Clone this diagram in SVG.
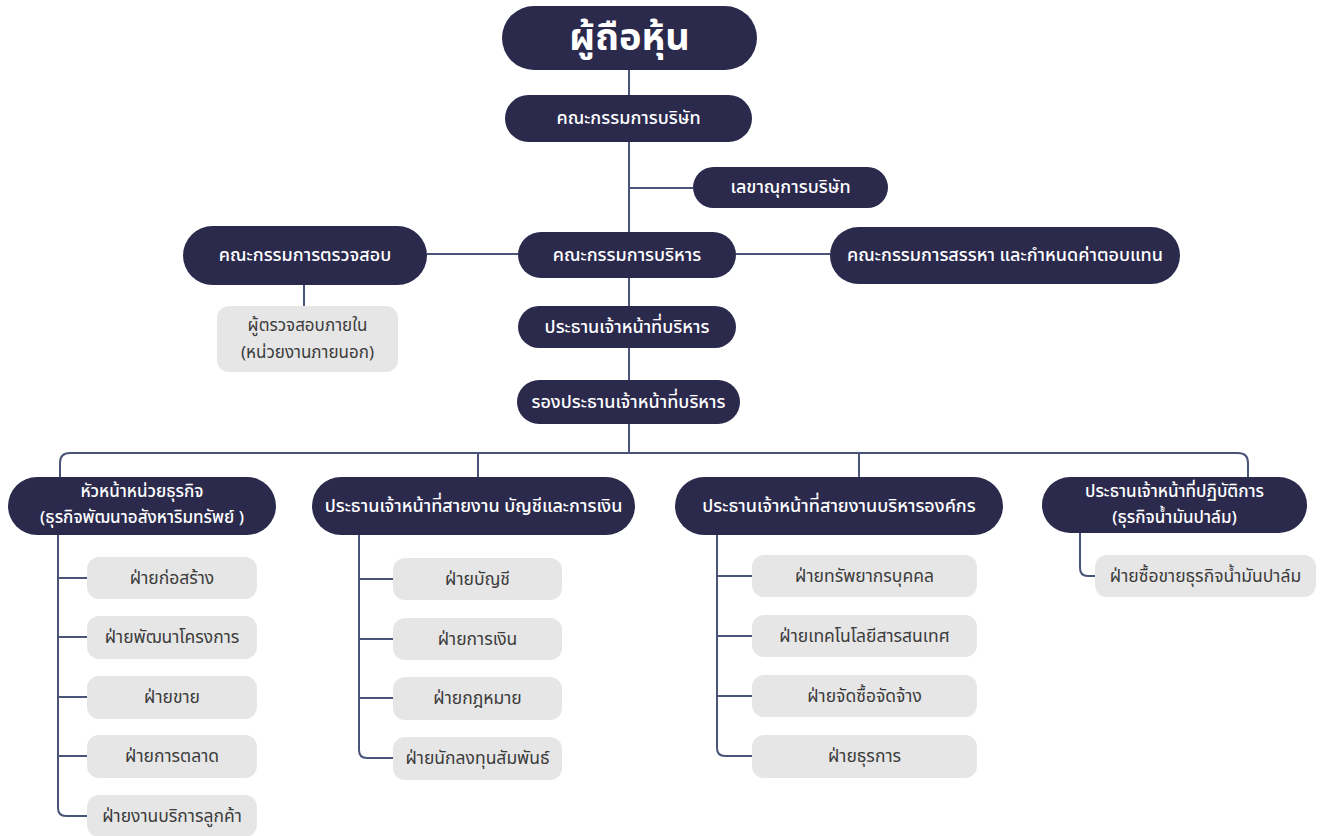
<svg xmlns="http://www.w3.org/2000/svg" width="1322" height="836" viewBox="0 0 1322 836">
<style>
.dk{fill:#2b2a4d}
.gy{fill:#e6e6e6}
.wt{fill:#ffffff;font-family:"Noto Sans Thai","Noto Sans","DejaVu Sans",sans-serif;font-size:18px;font-weight:500;text-anchor:middle;dominant-baseline:central}
.gt{fill:#3c3c3c;font-family:"Noto Sans Thai","Noto Sans","DejaVu Sans",sans-serif;font-size:17.5px;text-anchor:middle;dominant-baseline:central}
.two{font-size:17px}
.ln{fill:none;stroke:#4a5478;stroke-width:2}
</style>
<rect width="1322" height="836" fill="#ffffff"/>
<g id="connectors" class="ln">
<path d="M629 70V432"/>
<path d="M629 188H693"/>
<path d="M427 254H518"/>
<path d="M736 254H830"/>
<path d="M304 285V306"/>
<path d="M629 424V453"/>
<path d="M60 477V463Q60 453 70 453H1238Q1248 453 1248 463V477"/>
<path d="M478 453V477"/>
<path d="M859 453V477"/>
<path d="M58 535V808Q58 816 66 816H87"/>
<path d="M58 578H87M58 637H87M58 697H87M58 756H87"/>
<path d="M359 535V750Q359 758 367 758H393"/>
<path d="M359 579H393M359 639H393M359 698H393"/>
<path d="M717 535V748Q717 756 725 756H752"/>
<path d="M717 576H752M717 636H752M717 696H752"/>
<path d="M1080 533V568Q1080 576 1088 576H1095"/>
</g>
<g id="n-shareholders"><rect class="dk" x="502" y="6" width="255" height="64" rx="32"/><text class="wt" x="629.5" y="38" style="font-size:38px;font-weight:700">ผู้ถือหุ้น</text></g>
<g id="n-board"><rect class="dk" x="505" y="95" width="247" height="47" rx="23.5"/><text class="wt" x="628.5" y="118.5">คณะกรรมการบริษัท</text></g>
<g id="n-secretary"><rect class="dk" x="693" y="167" width="195" height="41" rx="20.5"/><text class="wt" x="790.5" y="187.5">เลขาณุการบริษัท</text></g>
<g id="n-audit"><rect class="dk" x="183" y="226" width="244" height="59" rx="29.5"/><text class="wt" x="305" y="255.5">คณะกรรมการตรวจสอบ</text></g>
<g id="n-exec"><rect class="dk" x="518" y="232" width="218" height="46" rx="23"/><text class="wt" x="627" y="255">คณะกรรมการบริหาร</text></g>
<g id="n-nomination"><rect class="dk" x="830" y="227" width="350" height="57" rx="28.5"/><text class="wt" x="1005" y="255.5">คณะกรรมการสรรหา และกำหนดค่าตอบแทน</text></g>
<g id="n-internal-audit"><rect class="gy" x="217" y="306" width="181" height="66" rx="12"/><text class="gt two" x="307.5" y="326">ผู้ตรวจสอบภายใน</text><text class="gt two" x="307.5" y="353">(หน่วยงานภายนอก)</text></g>
<g id="n-ceo"><rect class="dk" x="518" y="306" width="218" height="42" rx="21"/><text class="wt" x="627" y="327">ประธานเจ้าหน้าที่บริหาร</text></g>
<g id="n-deputy-ceo"><rect class="dk" x="517" y="380" width="223" height="44" rx="22"/><text class="wt" x="628.5" y="402">รองประธานเจ้าหน้าที่บริหาร</text></g>
<g id="n-bu-head"><rect class="dk" x="8" y="477" width="268" height="58" rx="29"/><text class="wt two" x="142" y="492">หัวหน้าหน่วยธุรกิจ</text><text class="wt two" x="142" y="518">(ธุรกิจพัฒนาอสังหาริมทรัพย์ )</text></g>
<g id="n-cfo"><rect class="dk" x="312" y="477" width="323" height="58" rx="29"/><text class="wt" x="473.5" y="506">ประธานเจ้าหน้าที่สายงาน บัญชีและการเงิน</text></g>
<g id="n-cao"><rect class="dk" x="675" y="477" width="328" height="58" rx="29"/><text class="wt" x="839" y="506">ประธานเจ้าหน้าที่สายงานบริหารองค์กร</text></g>
<g id="n-coo"><rect class="dk" x="1042" y="477" width="265" height="56" rx="28"/><text class="wt two" x="1174.5" y="492">ประธานเจ้าหน้าที่ปฏิบัติการ</text><text class="wt two" x="1174.5" y="518">(ธุรกิจน้ำมันปาล์ม)</text></g>
<g id="n-construction"><rect class="gy" x="87" y="557" width="170" height="42" rx="12"/><text class="gt" x="172" y="578">ฝ่ายก่อสร้าง</text></g>
<g id="n-project-dev"><rect class="gy" x="87" y="616" width="170" height="43" rx="12"/><text class="gt" x="172" y="637.5">ฝ่ายพัฒนาโครงการ</text></g>
<g id="n-sales"><rect class="gy" x="87" y="676" width="170" height="43" rx="12"/><text class="gt" x="172" y="697">ฝ่ายขาย</text></g>
<g id="n-marketing"><rect class="gy" x="87" y="735" width="170" height="43" rx="12"/><text class="gt" x="172" y="756.5">ฝ่ายการตลาด</text></g>
<g id="n-customer-service"><rect class="gy" x="87" y="795" width="170" height="42" rx="12"/><text class="gt" x="172" y="816">ฝ่ายงานบริการลูกค้า</text></g>
<g id="n-accounting"><rect class="gy" x="393" y="558" width="169" height="42" rx="12"/><text class="gt" x="477.5" y="579">ฝ่ายบัญชี</text></g>
<g id="n-finance"><rect class="gy" x="393" y="618" width="169" height="42" rx="12"/><text class="gt" x="477.5" y="639">ฝ่ายการเงิน</text></g>
<g id="n-legal"><rect class="gy" x="393" y="677" width="169" height="43" rx="12"/><text class="gt" x="477.5" y="698.5">ฝ่ายกฎหมาย</text></g>
<g id="n-ir"><rect class="gy" x="393" y="737" width="169" height="43" rx="12"/><text class="gt" x="477.5" y="758.5">ฝ่ายนักลงทุนสัมพันธ์</text></g>
<g id="n-hr"><rect class="gy" x="752" y="555" width="225" height="42" rx="12"/><text class="gt" x="864.5" y="576">ฝ่ายทรัพยากรบุคคล</text></g>
<g id="n-it"><rect class="gy" x="752" y="615" width="225" height="42" rx="12"/><text class="gt" x="864.5" y="636">ฝ่ายเทคโนโลยีสารสนเทศ</text></g>
<g id="n-procurement"><rect class="gy" x="752" y="675" width="225" height="42" rx="12"/><text class="gt" x="864.5" y="696">ฝ่ายจัดซื้อจัดจ้าง</text></g>
<g id="n-admin"><rect class="gy" x="752" y="735" width="225" height="43" rx="12"/><text class="gt" x="864.5" y="756.5">ฝ่ายธุรการ</text></g>
<g id="n-palm-trading"><rect class="gy" x="1095" y="555" width="221" height="42" rx="12"/><text class="gt" x="1205.5" y="576">ฝ่ายซื้อขายธุรกิจน้ำมันปาล์ม</text></g>
</svg>
